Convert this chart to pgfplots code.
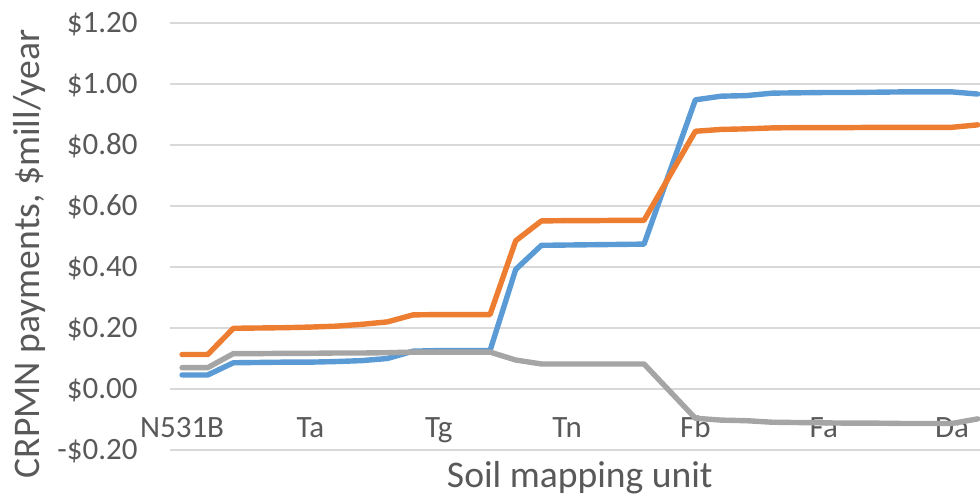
\documentclass[border=0pt]{standalone}
\usepackage{pgfplots}
\pgfplotsset{compat=1.18}
\usepackage{pgfplotstable}
\usepackage{fontspec}
\setmainfont{Carlito}
\definecolor{sblue}{HTML}{5B9BD5}
\definecolor{sorange}{HTML}{ED7D31}
\definecolor{sgray}{HTML}{A5A5A5}
\definecolor{grid}{HTML}{D9D9D9}
\definecolor{txt}{HTML}{595959}
\pgfplotstableread{
i blue orange gray
0 0.046 0.113 0.070
1 0.046 0.113 0.070
2 0.086 0.199 0.116
3 0.087 0.200 0.116
4 0.088 0.201 0.117
5 0.088 0.203 0.117
6 0.090 0.206 0.118
7 0.093 0.212 0.118
8 0.100 0.220 0.119
9 0.124 0.243 0.121
10 0.126 0.244 0.121
11 0.126 0.244 0.121
12 0.126 0.244 0.121
13 0.392 0.486 0.095
14 0.471 0.551 0.082
15 0.472 0.552 0.082
16 0.473 0.552 0.082
17 0.474 0.553 0.082
18 0.475 0.553 0.082
19 0.712 0.699 -0.007
20 0.948 0.845 -0.096
21 0.960 0.851 -0.102
22 0.962 0.853 -0.104
23 0.970 0.856 -0.109
24 0.971 0.857 -0.110
25 0.972 0.857 -0.111
26 0.972 0.857 -0.112
27 0.973 0.858 -0.112
28 0.974 0.858 -0.113
29 0.974 0.858 -0.113
30 0.974 0.858 -0.113
31 0.967 0.866 -0.098
}\datatable
\begin{document}
\begin{tikzpicture}
\path[use as bounding box] (-85pt,-23pt) rectangle (405pt,225pt);
\begin{axis}[
  scale only axis,
  width=405pt, height=213.5pt,
  at={(0,0)}, anchor=south west,
  xmin=-0.47, xmax=31.09,
  ymin=-0.2, ymax=1.2,
  xtick={0,5,10,15,20,25,30},
  xticklabels={N531B,Ta,Tg,Tn,Fb,Fa,Da},
  ytick={-0.2,0,0.2,0.4,0.6,0.8,1.0,1.2},
  yticklabels={-\$0.20,\$0.00,\$0.20,\$0.40,\$0.60,\$0.80,\$1.00,\$1.20},
  ymajorgrids,
  major grid style={draw=grid, line width=0.75pt},
  axis line style={draw=none},
  major tick length=0pt,
  tick label style={font=\fontsize{15.5}{18}\selectfont, text=txt},
  xticklabel style={anchor=base, yshift=6pt},
  yticklabel style={anchor=base east, inner sep=0pt, xshift=-16pt, yshift=-4.8pt},
  xlabel={Soil mapping unit},
  ylabel={CRPMN payments, \$mill/year},
  label style={font=\fontsize{18.8}{22}\selectfont, text=txt},
  xlabel style={at={(axis description cs:0.506,0)}, anchor=base, yshift=-19pt, inner sep=0pt},
  ylabel style={at={(axis description cs:-0.173,0.459)}, anchor=center, inner sep=0pt},
  every axis plot/.append style={line width=2.7pt, line join=round, line cap=round, mark=none},
]
\addplot[sblue] table[x=i, y=blue] {\datatable};
\addplot[sorange] table[x=i, y=orange] {\datatable};
\addplot[sgray] table[x=i, y=gray] {\datatable};
\end{axis}
\end{tikzpicture}
\end{document}
